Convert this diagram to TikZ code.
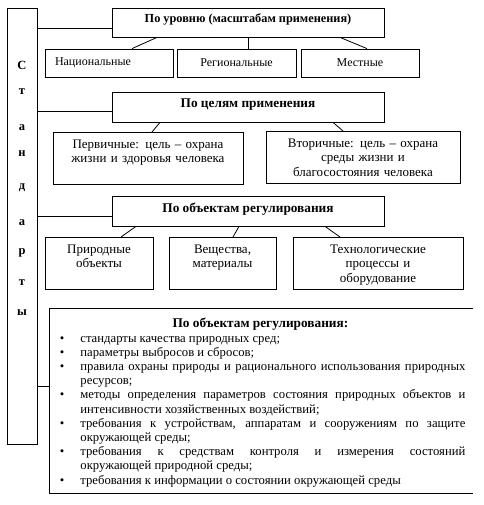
\documentclass[tikz,border=0pt]{standalone}
\usepackage{fontspec}
\setmainfont{Liberation Serif}
\begin{document}
\begin{tikzpicture}[x=1pt,y=-1pt,line width=0.8pt,
	font=\fontsize{13}{14.3}\selectfont,
	head/.style={draw,minimum width=272pt,minimum height=30pt,text depth=7pt,font=\fontsize{13.3}{14.3}\selectfont\bfseries},
	lbox/.style={draw,minimum height=28pt,font=\fontsize{12}{14.3}\selectfont},
	sbox/.style={draw,anchor=north,align=center,inner xsep=2pt,inner ysep=7.5pt,text depth=28pt,text width=#1}]
	\useasboundingbox (0,0) rectangle (483,505);
	% left column
	\node[draw,minimum width=30pt,minimum height=436pt] (std) at (22,226) {};
	\foreach \ch/\yy [count=\i] in {С/65,т/92,а/128,н/154,д/188,а/223,р/253,т/283,ы/313}
		\node[font=\fontsize{12.5}{14.3}\selectfont\bfseries] (l\i) at (22,\yy) {\ch};
	% level
	\node[head,minimum height=29pt,text depth=9pt,font=\fontsize{12.3}{14.3}\selectfont\bfseries] (lvl) at (248,22.5) {По уровню (масштабам применения)};
	\node[lbox,minimum width=128pt,text width=108pt,inner xsep=10pt,align=left] (nat) at (109,63) {Национальные};
	\node[lbox,minimum width=119pt] (reg) at (236.5,63) {Региональные};
	\node[lbox,minimum width=118pt] (loc) at (360,63) {Местные};
	\draw ([xshift=-91pt]lvl.south) -- ([xshift=23pt]nat.north);
	\draw (lvl.south) -- (lvl.south |- reg.north);
	\draw ([xshift=92pt]lvl.south) -- ([xshift=7pt]loc.north);
	% goals
	\node[head] (goal) at (248,107) {По целям применения};
	\node[sbox=186pt] (prim) at (148,132) {Первичные: цель – охрана\\жизни и здоровья человека};
	\node[sbox=190pt] (sec) at (363,131) {Вторичные: цель – охрана\\среды жизни и\\благосостояния человека};
	\draw ([xshift=-88pt]goal.south) -- ([xshift=4pt]prim.north);
	\draw ([xshift=85pt]goal.south) -- ([xshift=-20pt]sec.north);
	% objects
	\node[head] (obj) at (248,211) {По объектам регулирования};
	\node[sbox=104pt] (natobj) at (99,237) {Природные\\объекты};
	\node[sbox=103pt] (subst) at (222.5,237) {Вещества,\\материалы};
	\node[sbox=166pt] (tech) at (378,237) {Технологические\\процессы и\\оборудование};
	\draw ([xshift=-112pt]obj.south) -- ([xshift=22pt]natobj.north);
	\draw ([xshift=-9pt]obj.south) -- ([xshift=10.5pt]subst.north);
	\draw ([xshift=77pt]obj.south) -- ([xshift=-38pt]tech.north);
	% list
	\draw (473,308) -| (49,493) -- (473,493);
	\node[anchor=north west,text width=410pt,inner sep=0pt,align=justify,font=\fontsize{12.7}{14.2}\selectfont] (lst) at (55,318) {\hyphenpenalty=10000
		{\centering\fontsize{13.3}{14.2}\selectfont\bfseries По объектам регулирования:\par}
		\begin{list}{\textbullet}{\setlength{\leftmargin}{25pt}\setlength{\labelwidth}{6pt}\setlength{\labelsep}{16pt}%
			\setlength{\itemsep}{0pt}\setlength{\parsep}{0pt}\setlength{\topsep}{0pt}\setlength{\partopsep}{0pt}}
		\item стандарты качества природных сред;
		\item параметры выбросов и сбросов;
		\item правила охраны природы и рационального использования природных\linebreak ресурсов;
		\item методы определения параметров состояния природных объектов и\linebreak интенсивности хозяйственных воздействий;
		\item требования к устройствам, аппаратам и сооружениям по защите\linebreak окружающей среды;
		\item требования к средствам контроля и измерения состояний\linebreak окружающей природной среды;
		\item требования к информации о состоянии окружающей среды
		\end{list}};
	% links from the left column
	\coordinate (c1) at ([yshift=-5.5pt]lvl.west);
	\coordinate (c2) at ([yshift=-4pt]goal.west);
	\coordinate (c3) at ([yshift=-5pt]obj.west);
	\coordinate (c4) at (49,386);
	\draw (c1) -- (c1 -| std.east);
	\draw (c2) -- (c2 -| std.east);
	\draw (c3) -- (c3 -| std.east);
	\draw (c4) -- (c4 -| std.east);
\end{tikzpicture}
\end{document}
